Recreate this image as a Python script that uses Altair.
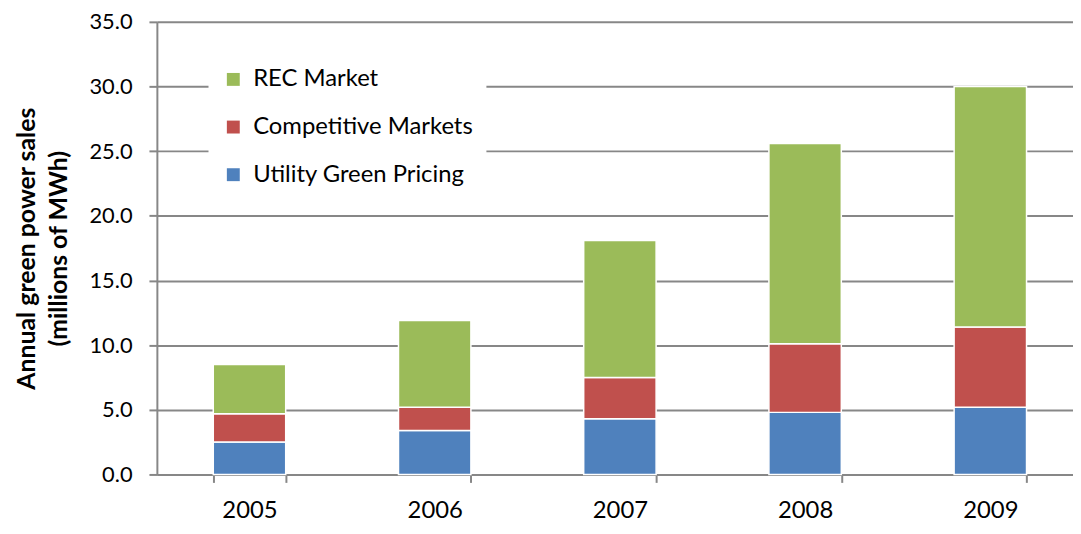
import altair as alt
import pandas as pd

years = ["2005", "2006", "2007", "2008", "2009"]
utility = [2.5, 3.4, 4.3, 4.8, 5.2]
competitive = [2.2, 1.8, 3.2, 5.3, 6.2]
rec = [3.8, 6.7, 10.6, 15.5, 18.6]

series = ["REC Market", "Competitive Markets", "Utility Green Pricing"]
colors = ["#9BBB59", "#C0504D", "#4F81BD"]
stack_order = {"Utility Green Pricing": 0, "Competitive Markets": 1, "REC Market": 2}

rows = []
for i, y in enumerate(years):
    for name, vals in (("Utility Green Pricing", utility), ("Competitive Markets", competitive), ("REC Market", rec)):
        rows.append({"year": y, "series": name, "value": vals[i], "ord": stack_order[name]})
df = pd.DataFrame(rows)

FONT = "Lato"
GRID = "#878787"

chart = alt.Chart(df).mark_bar(stroke="white", strokeWidth=1.5).encode(
    x=alt.X("year:N", title=None, sort=years,
            scale=alt.Scale(paddingInner=0.609, paddingOuter=0.3045, range=[0, 933]),
            axis=alt.Axis(labelAngle=0, labelFontSize=24, labelFont=FONT, labelColor="#000",
                          labelBaseline="alphabetic",
                          tickBand="extent", tickSize=8, tickColor=GRID, tickWidth=2,
                          domainColor=GRID, domainWidth=2, labelPadding=35, grid=False)),
    y=alt.Y("value:Q", stack="zero",
            title=["Annual green power sales", "(millions of MWh)"],
            scale=alt.Scale(domain=[0, 35], nice=False),
            axis=alt.Axis(values=[0, 5, 10, 15, 20, 25, 30, 35], format=".1f",
                          labelFontSize=22, labelFont=FONT, labelColor="#000",
                          tickSize=8, tickColor=GRID, tickWidth=2, labelPadding=17,
                          domainColor=GRID, domainWidth=2,
                          gridColor=GRID, gridWidth=2,
                          titleFont=FONT, titleFontSize=25, titleFontWeight="bold",
                          titleColor="#000", titlePadding=18, titleLineHeight=32)),
    color=alt.Color("series:N",
                    scale=alt.Scale(domain=series, range=colors),
                    legend=alt.Legend(title=None, orient="none", legendX=52, legendY=33,
                                      fillColor="white", padding=13, labelFont=FONT,
                                      labelFontSize=24, labelColor="#000",
                                      symbolType="square", symbolSize=169,
                                      symbolStrokeWidth=0, rowPadding=24,
                                      labelOffset=8, labelLimit=400)),
    order=alt.Order("ord:Q", sort="ascending"),
).properties(
    width=923, height=456,
    autosize=alt.AutoSizeParams(type="none"),
    padding={"left": 150, "top": 12, "right": 0, "bottom": 50},
).configure_view(stroke=None)

chart.save("out.html", embed_options={"renderer": "svg", "actions": False})
